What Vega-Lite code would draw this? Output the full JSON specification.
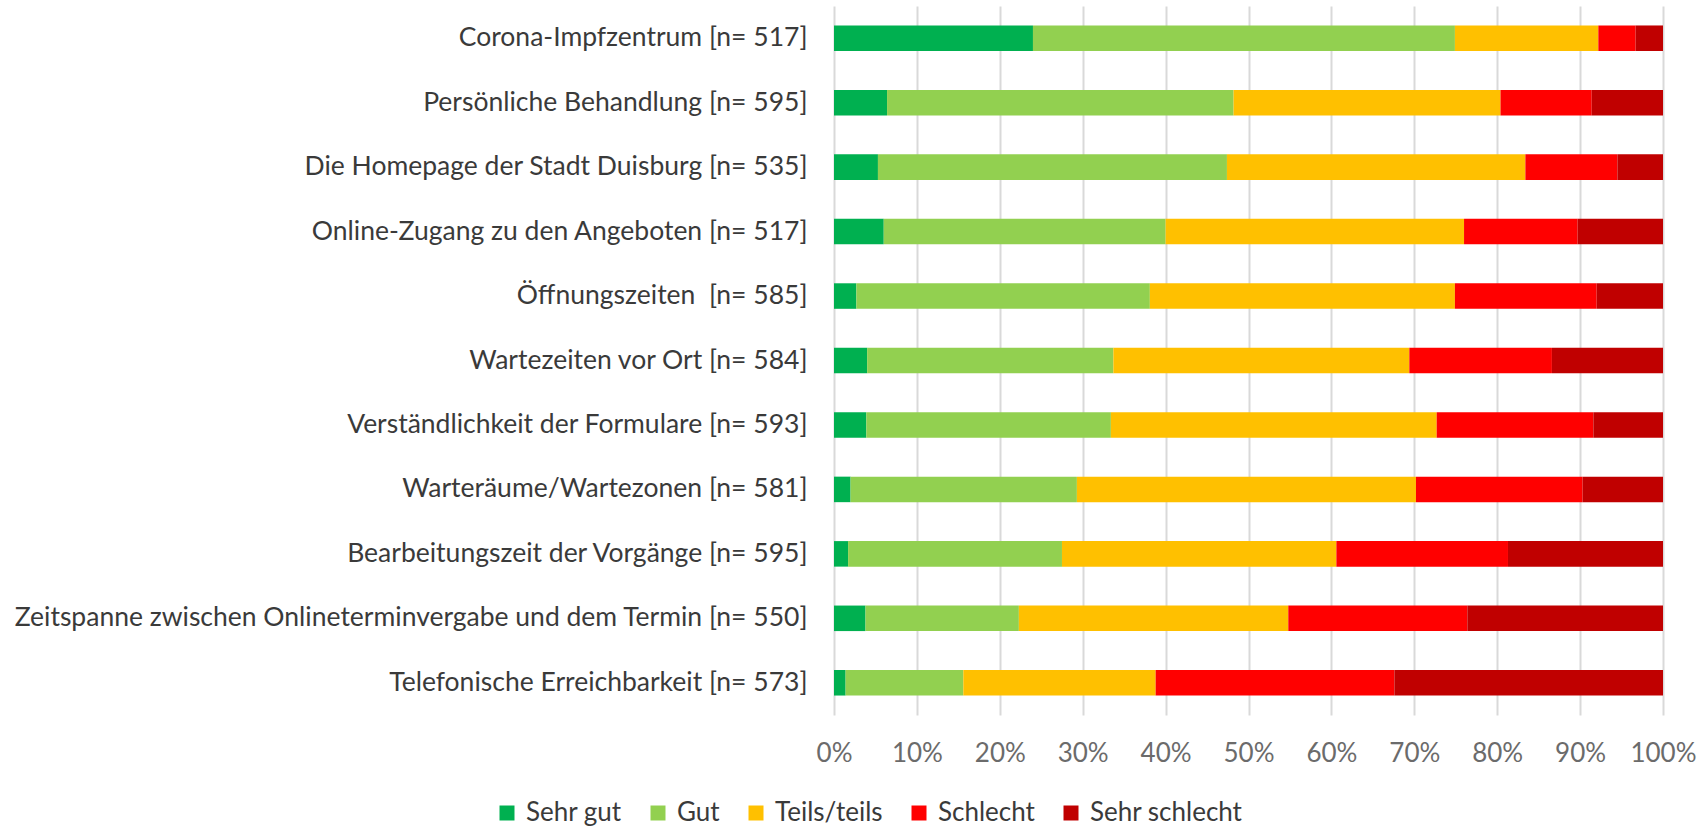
{
  "$schema": "https://vega.github.io/schema/vega-lite/v6.json",
  "autosize": {"type": "none"},
  "padding": {"left": 834, "top": 6, "right": 38, "bottom": 113},
  "width": 829,
  "height": 709,
  "background": "white",
  "config": {
    "view": {"stroke": null},
    "font": "Lato"
  },
  "data": {
    "values": [
      {"item": "Corona-Impfzentrum [n= 517]", "rating": "Sehr gut", "k": 1, "pct": 24.0},
      {"item": "Corona-Impfzentrum [n= 517]", "rating": "Gut", "k": 2, "pct": 50.9},
      {"item": "Corona-Impfzentrum [n= 517]", "rating": "Teils/teils", "k": 3, "pct": 17.3},
      {"item": "Corona-Impfzentrum [n= 517]", "rating": "Schlecht", "k": 4, "pct": 4.5},
      {"item": "Corona-Impfzentrum [n= 517]", "rating": "Sehr schlecht", "k": 5, "pct": 3.3},
      {"item": "Persönliche Behandlung [n= 595]", "rating": "Sehr gut", "k": 1, "pct": 6.4},
      {"item": "Persönliche Behandlung [n= 595]", "rating": "Gut", "k": 2, "pct": 41.8},
      {"item": "Persönliche Behandlung [n= 595]", "rating": "Teils/teils", "k": 3, "pct": 32.2},
      {"item": "Persönliche Behandlung [n= 595]", "rating": "Schlecht", "k": 4, "pct": 11.0},
      {"item": "Persönliche Behandlung [n= 595]", "rating": "Sehr schlecht", "k": 5, "pct": 8.6},
      {"item": "Die Homepage der Stadt Duisburg [n= 535]", "rating": "Sehr gut", "k": 1, "pct": 5.3},
      {"item": "Die Homepage der Stadt Duisburg [n= 535]", "rating": "Gut", "k": 2, "pct": 42.1},
      {"item": "Die Homepage der Stadt Duisburg [n= 535]", "rating": "Teils/teils", "k": 3, "pct": 36.0},
      {"item": "Die Homepage der Stadt Duisburg [n= 535]", "rating": "Schlecht", "k": 4, "pct": 11.1},
      {"item": "Die Homepage der Stadt Duisburg [n= 535]", "rating": "Sehr schlecht", "k": 5, "pct": 5.5},
      {"item": "Online-Zugang zu den Angeboten [n= 517]", "rating": "Sehr gut", "k": 1, "pct": 6.0},
      {"item": "Online-Zugang zu den Angeboten [n= 517]", "rating": "Gut", "k": 2, "pct": 34.0},
      {"item": "Online-Zugang zu den Angeboten [n= 517]", "rating": "Teils/teils", "k": 3, "pct": 36.0},
      {"item": "Online-Zugang zu den Angeboten [n= 517]", "rating": "Schlecht", "k": 4, "pct": 13.7},
      {"item": "Online-Zugang zu den Angeboten [n= 517]", "rating": "Sehr schlecht", "k": 5, "pct": 10.3},
      {"item": "Öffnungszeiten \u00a0[n= 585]", "rating": "Sehr gut", "k": 1, "pct": 2.7},
      {"item": "Öffnungszeiten \u00a0[n= 585]", "rating": "Gut", "k": 2, "pct": 35.4},
      {"item": "Öffnungszeiten \u00a0[n= 585]", "rating": "Teils/teils", "k": 3, "pct": 36.8},
      {"item": "Öffnungszeiten \u00a0[n= 585]", "rating": "Schlecht", "k": 4, "pct": 17.1},
      {"item": "Öffnungszeiten \u00a0[n= 585]", "rating": "Sehr schlecht", "k": 5, "pct": 8.0},
      {"item": "Wartezeiten vor Ort [n= 584]", "rating": "Sehr gut", "k": 1, "pct": 4.0},
      {"item": "Wartezeiten vor Ort [n= 584]", "rating": "Gut", "k": 2, "pct": 29.7},
      {"item": "Wartezeiten vor Ort [n= 584]", "rating": "Teils/teils", "k": 3, "pct": 35.7},
      {"item": "Wartezeiten vor Ort [n= 584]", "rating": "Schlecht", "k": 4, "pct": 17.2},
      {"item": "Wartezeiten vor Ort [n= 584]", "rating": "Sehr schlecht", "k": 5, "pct": 13.4},
      {"item": "Verständlichkeit der Formulare [n= 593]", "rating": "Sehr gut", "k": 1, "pct": 3.9},
      {"item": "Verständlichkeit der Formulare [n= 593]", "rating": "Gut", "k": 2, "pct": 29.5},
      {"item": "Verständlichkeit der Formulare [n= 593]", "rating": "Teils/teils", "k": 3, "pct": 39.3},
      {"item": "Verständlichkeit der Formulare [n= 593]", "rating": "Schlecht", "k": 4, "pct": 18.9},
      {"item": "Verständlichkeit der Formulare [n= 593]", "rating": "Sehr schlecht", "k": 5, "pct": 8.4},
      {"item": "Warteräume/Wartezonen [n= 581]", "rating": "Sehr gut", "k": 1, "pct": 2.0},
      {"item": "Warteräume/Wartezonen [n= 581]", "rating": "Gut", "k": 2, "pct": 27.3},
      {"item": "Warteräume/Wartezonen [n= 581]", "rating": "Teils/teils", "k": 3, "pct": 40.9},
      {"item": "Warteräume/Wartezonen [n= 581]", "rating": "Schlecht", "k": 4, "pct": 20.1},
      {"item": "Warteräume/Wartezonen [n= 581]", "rating": "Sehr schlecht", "k": 5, "pct": 9.7},
      {"item": "Bearbeitungszeit der Vorgänge [n= 595]", "rating": "Sehr gut", "k": 1, "pct": 1.7},
      {"item": "Bearbeitungszeit der Vorgänge [n= 595]", "rating": "Gut", "k": 2, "pct": 25.8},
      {"item": "Bearbeitungszeit der Vorgänge [n= 595]", "rating": "Teils/teils", "k": 3, "pct": 33.1},
      {"item": "Bearbeitungszeit der Vorgänge [n= 595]", "rating": "Schlecht", "k": 4, "pct": 20.7},
      {"item": "Bearbeitungszeit der Vorgänge [n= 595]", "rating": "Sehr schlecht", "k": 5, "pct": 18.7},
      {"item": "Zeitspanne zwischen Onlineterminvergabe und dem Termin [n= 550]", "rating": "Sehr gut", "k": 1, "pct": 3.8},
      {"item": "Zeitspanne zwischen Onlineterminvergabe und dem Termin [n= 550]", "rating": "Gut", "k": 2, "pct": 18.5},
      {"item": "Zeitspanne zwischen Onlineterminvergabe und dem Termin [n= 550]", "rating": "Teils/teils", "k": 3, "pct": 32.5},
      {"item": "Zeitspanne zwischen Onlineterminvergabe und dem Termin [n= 550]", "rating": "Schlecht", "k": 4, "pct": 21.6},
      {"item": "Zeitspanne zwischen Onlineterminvergabe und dem Termin [n= 550]", "rating": "Sehr schlecht", "k": 5, "pct": 23.6},
      {"item": "Telefonische Erreichbarkeit [n= 573]", "rating": "Sehr gut", "k": 1, "pct": 1.4},
      {"item": "Telefonische Erreichbarkeit [n= 573]", "rating": "Gut", "k": 2, "pct": 14.2},
      {"item": "Telefonische Erreichbarkeit [n= 573]", "rating": "Teils/teils", "k": 3, "pct": 23.2},
      {"item": "Telefonische Erreichbarkeit [n= 573]", "rating": "Schlecht", "k": 4, "pct": 28.8},
      {"item": "Telefonische Erreichbarkeit [n= 573]", "rating": "Sehr schlecht", "k": 5, "pct": 32.4}
    ]
  },
  "mark": {"type": "bar"},
  "encoding": {
    "y": {
      "field": "item",
      "type": "nominal",
      "sort": null,
      "scale": {"paddingInner": 0.604, "paddingOuter": 0.302},
      "axis": {
        "title": null,
        "domain": false,
        "ticks": false,
        "grid": false,
        "labelFont": "Lato",
        "labelFontSize": 26.5,
        "labelColor": "#3a3a3a",
        "labelPadding": 27,
        "labelLimit": 900
      }
    },
    "x": {
      "field": "pct",
      "type": "quantitative",
      "stack": "normalize",
      "scale": {"domain": [0, 1], "nice": false},
      "axis": {
        "title": null,
        "domain": false,
        "ticks": false,
        "grid": true,
        "gridColor": "#d9d9d9",
        "gridWidth": 2,
        "values": [0, 0.1, 0.2, 0.3, 0.4, 0.5, 0.6, 0.7, 0.8, 0.9, 1],
        "format": ".0%",
        "labelFont": "Lato",
        "labelFontSize": 26,
        "labelColor": "#6b6b6b",
        "labelPadding": 25,
        "labelFlush": false,
        "labelOverlap": false
      }
    },
    "order": {"field": "k", "type": "quantitative", "sort": "ascending"},
    "color": {
      "field": "rating",
      "type": "nominal",
      "scale": {
        "domain": ["Sehr gut", "Gut", "Teils/teils", "Schlecht", "Sehr schlecht"],
        "range": ["#00b050", "#92d050", "#ffc000", "#ff0000", "#c00000"]
      },
      "legend": {
        "title": null,
        "orient": "none",
        "direction": "horizontal",
        "legendX": -340,
        "legendY": 794,
        "padding": 0,
        "symbolType": "square",
        "symbolSize": 225,
        "symbolStrokeWidth": 0,
        "symbolOpacity": 1,
        "labelFont": "Lato",
        "labelFontSize": 26,
        "labelColor": "#3a3a3a",
        "labelOffset": 6,
        "columnPadding": 23,
        "labelLimit": 300
      }
    }
  }
}
